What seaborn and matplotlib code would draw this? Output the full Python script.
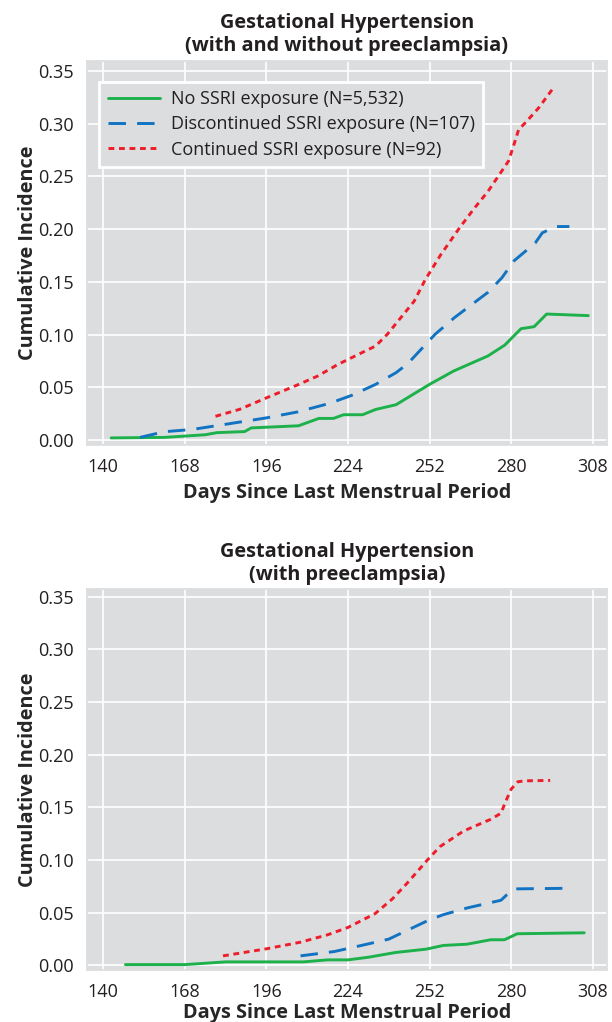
import pandas as pd
import matplotlib.pyplot as plt
import seaborn as sns
from matplotlib.ticker import FormatStrFormatter

# Styling: grey panel with white grid, like the journal figure
sns.set_theme(style="darkgrid", rc={
    'axes.facecolor': '#dcdddf',
    'grid.color': 'white',
    'grid.linewidth': 1.2,
    'axes.edgecolor': '#dcdddf',
})
plt.rcParams['font.family'] = ['Open Sans', 'DejaVu Sans']
plt.rcParams['text.color'] = '#231f20'
plt.rcParams['xtick.color'] = '#231f20'
plt.rcParams['ytick.color'] = '#231f20'

GROUPS = ['No SSRI exposure (N=5,532)',
          'Discontinued SSRI exposure (N=107)',
          'Continued SSRI exposure (N=92)']

# Top panel: with and without preeclampsia
top_none_days = [142.7, 161, 175, 179, 188.5, 190.8, 207, 209.5, 214, 219, 222.5, 229,
                 233.5, 240.5, 252, 260.3, 272, 277.8, 283.4, 287.9, 292.2, 306.5]
top_none_vals = [0.002, 0.0025, 0.005, 0.007, 0.008, 0.0115, 0.0135, 0.016, 0.0205, 0.0205,
                 0.024, 0.024, 0.029, 0.0335, 0.0528, 0.0655, 0.0797, 0.09, 0.1056, 0.1075,
                 0.1195, 0.118]
top_disc_days = [152.6, 161, 170.5, 181, 196, 206.6, 217.7, 225.3, 233.5, 240.5, 244.5,
                 253.9, 260.5, 272, 276.8, 281, 286.3, 288.3, 290.7, 295.3, 300]
top_disc_vals = [0.0025, 0.0079, 0.010, 0.0145, 0.021, 0.0266, 0.0348, 0.0424, 0.0528,
                 0.0639, 0.0724, 0.1003, 0.116, 0.14, 0.1538, 0.170, 0.1823, 0.187, 0.1965,
                 0.2025, 0.2025]
top_cont_days = [178.5, 186.8, 196.1, 206.6, 213.6, 220.6, 228.8, 233.5, 237.5, 242.7, 246.7,
                 250.5, 255.9, 262.3, 267.5, 272.1, 275.6, 279.1, 280.8, 282.6, 284.9, 289.5,
                 294.5]
top_cont_vals = [0.0225, 0.0291, 0.0401, 0.0522, 0.0607, 0.0718, 0.0829, 0.0892, 0.1003,
                 0.118, 0.1316, 0.152, 0.176, 0.2013, 0.2203, 0.236, 0.2503, 0.2646, 0.2788,
                 0.2946, 0.301, 0.3152, 0.334]

# Bottom panel: with preeclampsia
bot_none_days = [147.6, 168, 182, 208.8, 217, 224, 231, 240.3, 250.9, 256.7, 264.9, 273,
                 277.7, 282.1, 305.1]
bot_none_vals = [0.0006, 0.0006, 0.0032, 0.0032, 0.0051, 0.0051, 0.0076, 0.0121, 0.0153,
                 0.0188, 0.020, 0.0242, 0.0242, 0.0299, 0.0308]
bot_disc_days = [207.7, 219.3, 231, 238, 252, 256.7, 264.9, 276.5, 278.6, 281.2, 300.4]
bot_disc_vals = [0.0089, 0.013, 0.0203, 0.0248, 0.0432, 0.048, 0.0544, 0.0617, 0.0671,
                 0.0725, 0.0731]
bot_cont_days = [181.1, 196, 207.7, 217, 224, 233.3, 239.2, 244.4, 251.4, 255.5, 263.7, 273,
                 276.5, 278.2, 280, 282.3, 284.6, 293.4]
bot_cont_vals = [0.0089, 0.0156, 0.0219, 0.0289, 0.0359, 0.049, 0.0629, 0.0782, 0.1004,
                 0.1125, 0.1275, 0.1386, 0.1443, 0.156, 0.1672, 0.1742, 0.1751, 0.1755]

x_ticks = [140, 168, 196, 224, 252, 280, 308]
y_ticks = [0.00, 0.05, 0.10, 0.15, 0.20, 0.25, 0.30, 0.35]

palette = dict(zip(GROUPS, ['#1db14b', '#1273c2', '#ee1d2a']))
dashes = dict(zip(GROUPS, ['', (6, 3.8), (2, 1.6)]))


def make_frame(series):
    parts = []
    for group, (days, vals) in zip(GROUPS, series):
        parts.append(pd.DataFrame({'Day': days, 'Incidence': vals, 'Group': group}))
    return pd.concat(parts, ignore_index=True)


def draw_panel(ax, df, title, show_legend, xlabelpad):
    sns.lineplot(data=df, x='Day', y='Incidence', hue='Group', style='Group',
                 palette=palette, dashes=dashes, linewidth=2.1, ax=ax,
                 legend=show_legend, estimator=None, sort=False)
    ax.set_xlim(134.5, 312.8)
    ax.set_xticks(x_ticks)
    ax.set_yticks(y_ticks)
    ax.yaxis.set_major_formatter(FormatStrFormatter('%.2f'))
    ax.tick_params(axis='both', labelsize=13, pad=3.5)
    ax.set_xlabel('Days Since Last Menstrual Period', fontsize=14.3, fontweight='bold',
                  labelpad=xlabelpad)
    ax.set_ylabel('Cumulative Incidence', fontsize=14.3, fontweight='bold', labelpad=0)
    ax.set_title(title, fontsize=14.3, fontweight='bold', pad=7, linespacing=1.2)
    if show_legend:
        handles, labels = ax.get_legend_handles_labels()
        leg = ax.legend(handles, labels, loc='upper left', bbox_to_anchor=(0.0235, 0.945),
                        borderaxespad=0, fontsize=13, handlelength=2.9, frameon=True,
                        fancybox=False, facecolor='#dcdddf', edgecolor='white',
                        framealpha=1, labelspacing=0.4, borderpad=0.45, handletextpad=0.6)
        leg.get_frame().set_linewidth(2)


fig = plt.figure(figsize=(6.12, 10.22), dpi=100)
ax_top = fig.add_axes([0.1426, 0.5646, 0.8487, 0.3757])
ax_bot = fig.add_axes([0.1426, 0.0509, 0.8487, 0.3725])

top_df = make_frame([(top_none_days, top_none_vals), (top_disc_days, top_disc_vals),
                     (top_cont_days, top_cont_vals)])
bot_df = make_frame([(bot_none_days, bot_none_vals), (bot_disc_days, bot_disc_vals),
                     (bot_cont_days, bot_cont_vals)])

draw_panel(ax_top, top_df, 'Gestational Hypertension\n(with and without preeclampsia)', True, 5)
ax_top.set_ylim(-0.0047, 0.3595)
draw_panel(ax_bot, bot_df, 'Gestational Hypertension\n(with preeclampsia)', False, 1)
ax_bot.set_ylim(-0.0045, 0.357)

fig.savefig('out.png', dpi=100, facecolor='white')
